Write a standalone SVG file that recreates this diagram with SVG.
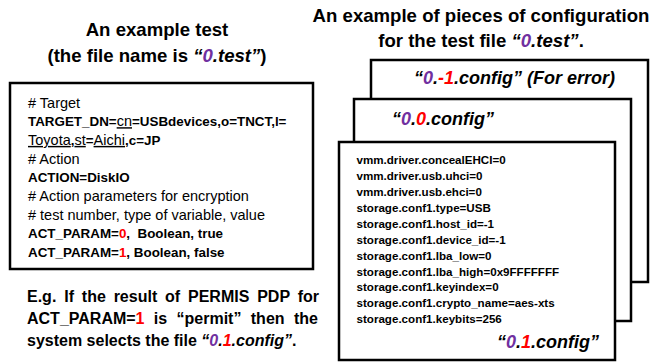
<svg xmlns="http://www.w3.org/2000/svg" width="663" height="362" viewBox="0 0 663 362">
<style>
text{font-family:"Liberation Sans",Arial,sans-serif;fill:#000}
.title{font-size:18.6px;font-weight:bold}
.reg{font-size:14.5px}
.bold{font-size:13.4px;font-weight:bold}
.u{font-weight:normal;font-size:14.5px;text-decoration:underline}
.cfg{font-size:11.6px;font-weight:bold}
.name{font-size:18px;font-weight:bold;font-style:italic}
.note{font-size:16px;font-weight:bold}
.it{font-style:italic}
.pu{fill:#7030A0}
.rd{fill:#FF0000}
.box{fill:#fff;stroke:#000;stroke-width:2.5}
</style>
<rect width="663" height="362" fill="#fff"/>
<g id="title-test">
<text class="title" x="157" y="36" text-anchor="middle">An example test</text>
<text class="title" x="157" y="62" text-anchor="middle">(the file name is <tspan class="it">“<tspan class="pu">0</tspan>.test”</tspan>)</text>
</g>
<g id="title-config">
<text class="title" x="481" y="22" text-anchor="middle">An example of pieces of configuration</text>
<text class="title" x="481" y="47" text-anchor="middle">for the test file <tspan class="it">“<tspan class="pu">0</tspan>.test”</tspan>.</text>
</g>
<g id="test-file">
<rect class="box" x="10" y="83" width="303" height="186"/>
<text class="reg" x="28" y="107.5"># Target</text>
<text class="bold" x="28" y="126.2">TARGET_DN=<tspan class="u">cn</tspan>=USBdevices,o=TNCT,l=</text>
<text class="bold" x="28" y="144.9"><tspan class="u">Toyota</tspan>,<tspan class="u">st</tspan>=<tspan class="u">Aichi</tspan>,c=JP</text>
<text class="reg" x="28" y="163.6"># Action</text>
<text class="bold" x="28" y="182.3">ACTION=DiskIO</text>
<text class="reg" x="28" y="201"># Action parameters for encryption</text>
<text class="reg" x="28" y="219.7"># test number, type of variable, value</text>
<text class="bold" x="28" y="238.4" xml:space="preserve">ACT_PARAM=<tspan class="rd">0</tspan>,  Boolean, true</text>
<text class="bold" x="28" y="257.1">ACT_PARAM=<tspan class="rd">1</tspan>, Boolean, false</text>
</g>
<g id="note">
<text class="note" x="27" y="302" word-spacing="3.4">E.g. If the result of PERMIS PDP for</text>
<text class="note" x="27" y="324" word-spacing="4.9">ACT_PARAM=<tspan class="rd">1</tspan> is “permit” then the</text>
<text class="note" x="27" y="346">system selects the file <tspan class="it">“<tspan class="pu">0</tspan>.<tspan class="rd">1</tspan>.config”</tspan>.</text>
</g>
<g id="config-error">
<rect class="box" x="371" y="60" width="277" height="222"/>
<text class="name" x="414" y="83.5">“<tspan class="pu">0</tspan>.<tspan class="rd">-1</tspan>.config” (For error)</text>
</g>
<g id="config-0">
<rect class="box" x="354" y="99" width="277" height="222"/>
<text class="name" x="392" y="125">“<tspan class="pu">0</tspan>.<tspan class="rd">0</tspan>.config”</text>
</g>
<g id="config-1">
<rect class="box" x="339" y="142" width="276" height="218"/>
<text class="cfg" x="356.5" y="164">vmm.driver.concealEHCI=0</text>
<text class="cfg" x="356.5" y="179.9">vmm.driver.usb.uhci=0</text>
<text class="cfg" x="356.5" y="195.9">vmm.driver.usb.ehci=0</text>
<text class="cfg" x="356.5" y="211.8">storage.conf1.type=USB</text>
<text class="cfg" x="356.5" y="227.7">storage.conf1.host_id=-1</text>
<text class="cfg" x="356.5" y="243.7">storage.conf1.device_id=-1</text>
<text class="cfg" x="356.5" y="259.6">storage.conf1.lba_low=0</text>
<text class="cfg" x="356.5" y="275.5">storage.conf1.lba_high=0x9FFFFFFF</text>
<text class="cfg" x="356.5" y="291.4">storage.conf1.keyindex=0</text>
<text class="cfg" x="356.5" y="307.4">storage.conf1.crypto_name=aes-xts</text>
<text class="cfg" x="356.5" y="323.3">storage.conf1.keybits=256</text>
<text class="name" x="497" y="348">“<tspan class="pu">0</tspan>.<tspan class="rd">1</tspan>.config”</text>
</g>
<g id="connectors"/>
</svg>
